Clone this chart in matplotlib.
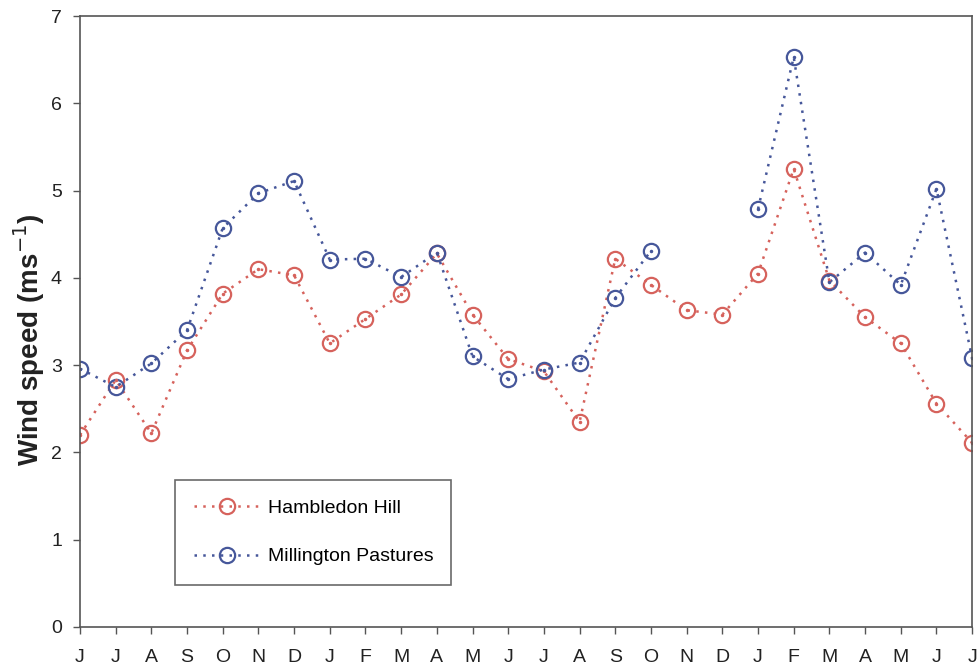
"""Monthly mean wind speed at two sites."""
import numpy as np
import matplotlib
matplotlib.use("Agg")
import matplotlib.pyplot as plt

months = ["J", "J", "A", "S", "O", "N", "D", "J", "F", "M", "A", "M", "J",
          "J", "A", "S", "O", "N", "D", "J", "F", "M", "A", "M", "J", "J"]

hambledon = [2.20, 2.83, 2.22, 3.17, 3.82, 4.10, 4.03, 3.25, 3.53, 3.81,
             4.28, 3.58, 3.07, 2.93, 2.35, 4.22, 3.92, 3.63, 3.58, 4.05,
             5.25, 3.97, 3.55, 3.25, 2.56, 2.11]

millington = [2.96, 2.75, 3.02, 3.40, 4.57, 4.97, 5.11, 4.21, 4.22, 4.01,
              4.29, 3.10, 2.84, 2.95, 3.03, 3.77, 4.31, np.nan, np.nan, 4.79,
              6.53, 3.95, 4.29, 3.92, 5.02, 3.08]

red = "#d6625c"
blue = "#46579a"

plt.rcParams["font.family"] = ["Liberation Sans", "DejaVu Sans"]

fig = plt.figure(figsize=(9.8, 6.71), dpi=100)
ax = fig.add_axes([0.0816, 0.0656, 0.9104, 0.9104])

x = np.arange(len(months))
ax.plot(x, hambledon, linestyle=(0, (1, 2.5)), linewidth=1.8, color=red,
        marker="o", markersize=11, markerfacecolor="none",
        markeredgewidth=1.6, markeredgecolor=red, label="Hambledon Hill")
ax.plot(x, millington, linestyle=(0, (1, 2.5)), linewidth=1.8, color=blue,
        marker="o", markersize=11, markerfacecolor="none",
        markeredgewidth=1.6, markeredgecolor=blue, label="Millington Pastures")
# small dot in the middle of each circle
ax.plot(x, hambledon, linestyle="none", marker=".", markersize=3, color=red)
ax.plot(x, millington, linestyle="none", marker=".", markersize=3, color=blue)

ax.set_xlim(0, len(months) - 1)
ax.set_ylim(0, 7)
ax.set_xticks(x, months)
ax.set_yticks(range(8))
ax.tick_params(axis="both", direction="out", length=5, width=1,
               color="#555555", labelsize=14, labelcolor="#222222")
ax.tick_params(axis="x", pad=11)
ax.tick_params(axis="y", pad=8)
for s in ax.spines.values():
    s.set_color("#555555")
    s.set_linewidth(1.2)

ax.set_ylabel("Wind speed (ms$^{-1}$)", fontsize=20,
              fontweight="bold", color="#222222")
ax.yaxis.set_label_coords(-0.037, 0.47)

leg = ax.legend(loc="lower left", bbox_to_anchor=(0.106, 0.069, 0.31, 0.19),
                mode="expand", fontsize=14, frameon=True, fancybox=False,
                edgecolor="#444444", handlelength=3.4, labelspacing=1.6,
                borderpad=1.0, borderaxespad=0, handletextpad=0.4)
leg.get_frame().set_linewidth(1.2)

fig.savefig("out.png", dpi=100)
